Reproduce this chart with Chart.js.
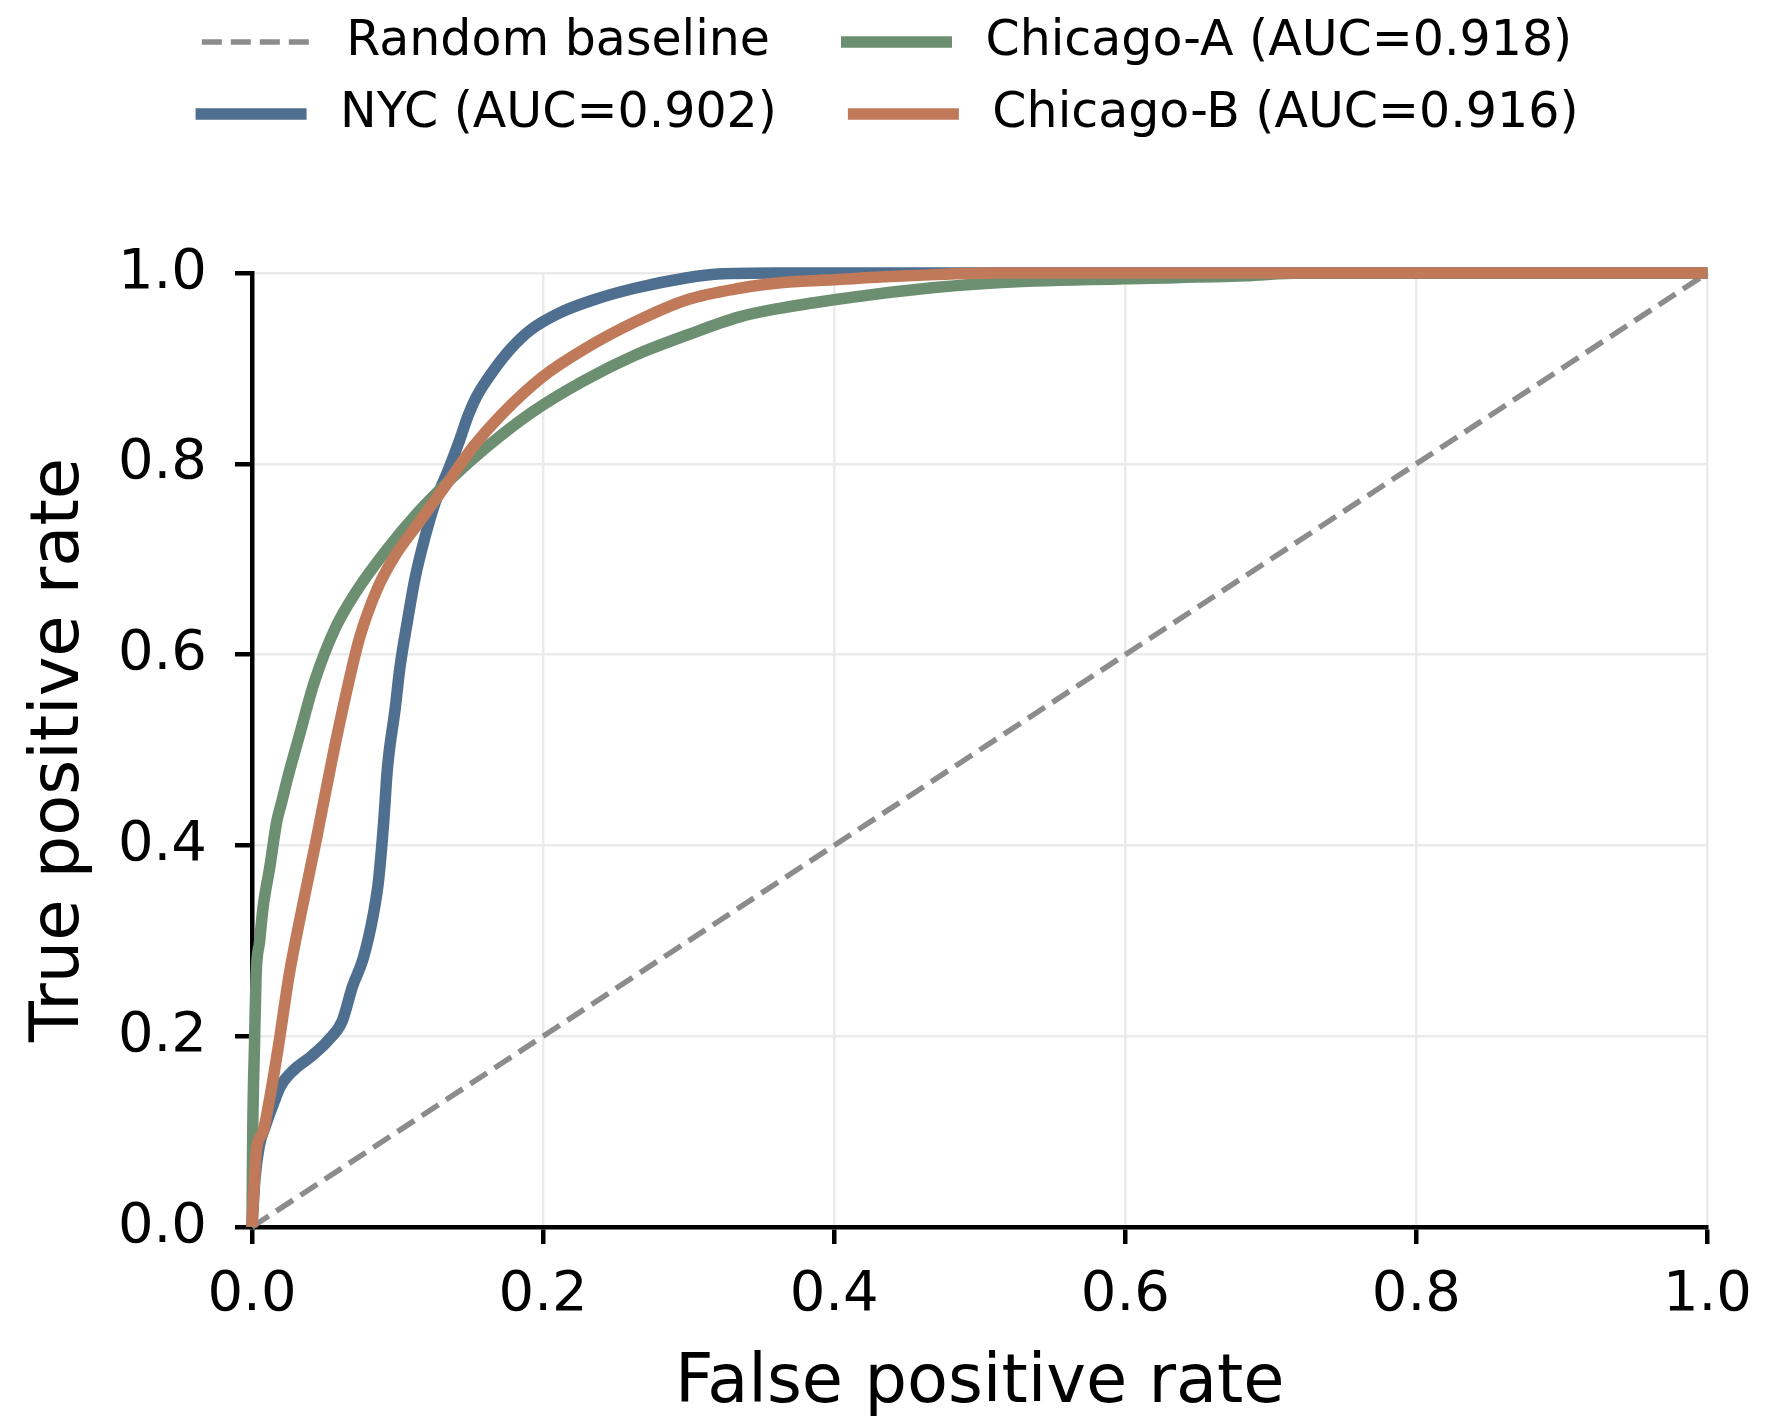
<!DOCTYPE html>
<html>
<head>
<meta charset="utf-8">
<script src="https://cdn.jsdelivr.net/npm/chart.js@4.4.1/dist/chart.umd.min.js"></script>
<style>
  html, body { margin: 0; padding: 0; background: #ffffff; }
  #wrap { width: 1770px; height: 1428px; position: relative; }
</style>
</head>
<body>
<div id="wrap"><canvas id="c"></canvas></div>
<script>
// ---------- data ----------
const tickValues = [0, 0.2, 0.4, 0.6, 0.8, 1.0];
const tickLabels = ['0.0', '0.2', '0.4', '0.6', '0.8', '1.0'];
const seriesNames = ['Random baseline', 'NYC (AUC=0.902)', 'Chicago-A (AUC=0.918)', 'Chicago-B (AUC=0.916)'];

const baselineFpr = [0, 1];
const baselineTpr = [0, 1];

const nycFpr = [0, 0.002, 0.005, 0.009, 0.0147, 0.0194, 0.029, 0.0408, 0.0526, 0.062, 0.069, 0.0763, 0.0834, 0.087, 0.0905, 0.093, 0.0985, 0.1015, 0.107, 0.112, 0.119, 0.126, 0.1355, 0.1427, 0.1486, 0.1545, 0.166, 0.178, 0.192, 0.211, 0.235, 0.263, 0.299, 0.32, 0.36, 1.0];
const nycTpr = [0, 0.05, 0.085, 0.105, 0.129, 0.147, 0.165, 0.179, 0.196, 0.216, 0.252, 0.281, 0.328, 0.364, 0.425, 0.48, 0.545, 0.585, 0.637, 0.680, 0.724, 0.760, 0.796, 0.825, 0.851, 0.871, 0.898, 0.921, 0.941, 0.958, 0.972, 0.984, 0.995, 0.999, 1.0, 1.0];

const chicagoAFpr = [0, 0.0005, 0.0017, 0.0028, 0.0052, 0.0076, 0.0123, 0.017, 0.0205, 0.0242, 0.0325, 0.043, 0.0573, 0.0716, 0.0905, 0.114, 0.138, 0.1616, 0.1924, 0.228, 0.2635, 0.299, 0.335, 0.3626, 0.4, 0.4516, 0.5093, 0.6, 0.6825, 0.72, 1.0];
const chicagoATpr = [0, 0.1, 0.19, 0.263, 0.299, 0.335, 0.378, 0.425, 0.446, 0.469, 0.515, 0.572, 0.628, 0.666, 0.706, 0.749, 0.786, 0.818, 0.854, 0.887, 0.914, 0.935, 0.954, 0.963, 0.972, 0.982, 0.9895, 0.994, 0.997, 1.0, 1.0];

const chicagoBFpr = [0, 0.0015, 0.003, 0.0076, 0.0123, 0.0182, 0.0254, 0.0336, 0.0443, 0.055, 0.0645, 0.074, 0.0858, 0.0976, 0.114, 0.133, 0.152, 0.171, 0.1995, 0.228, 0.2635, 0.299, 0.335, 0.365, 0.4, 0.45, 0.51, 1.0];
const chicagoBTpr = [0, 0.045, 0.08, 0.10, 0.136, 0.19, 0.263, 0.328, 0.407, 0.49, 0.558, 0.618, 0.668, 0.702, 0.737, 0.777, 0.818, 0.851, 0.891, 0.920, 0.949, 0.972, 0.984, 0.99, 0.993, 0.997, 1.0, 1.0];

// legend order (row-wise): Random baseline, Chicago-A, NYC, Chicago-B
const legendOrder = [0, 2, 1, 3];

// ---------- helpers ----------
function pts(xs, ys) { return xs.map((x, i) => ({ x: x, y: ys[i] })); }

const COLORS = ['#8c8c8c', '#4e6f8f', '#6d8f71', '#c07a59'];
const WIDTHS = [5.5, 11.5, 11.5, 11.5];
const DASHES = [[20, 9], [], [], []];

function makeSample(color, width, dash) {
  const c = document.createElement('canvas');
  c.width = 168; c.height = 16;
  const g = c.getContext('2d');
  g.strokeStyle = color; g.lineWidth = width; g.lineCap = 'butt';
  g.setLineDash(dash);
  g.beginPath(); g.moveTo(48, 8); g.lineTo(159, 8); g.stroke();
  return c;
}

Chart.defaults.font.family = "'DejaVu Sans', sans-serif";
Chart.defaults.color = '#000000';

const legendSpacer = {
  id: 'legendSpacer',
  beforeLayout(chart) {
    const lg = chart.legend;
    if (lg && !lg._spacerPatched) {
      const orig = lg.fit.bind(lg);
      lg.fit = function () { orig(); this.height = 278.5; };
      lg._spacerPatched = true;
    }
  }
};

const seriesData = [
  pts(baselineFpr, baselineTpr),
  pts(nycFpr, nycTpr),
  pts(chicagoAFpr, chicagoATpr),
  pts(chicagoBFpr, chicagoBTpr)
];
const drawOrder = [4, 3, 2, 1];

const datasets = seriesData.map((d, i) => ({
  label: seriesNames[i],
  data: d,
  showLine: true,
  borderColor: COLORS[i],
  backgroundColor: COLORS[i],
  borderWidth: WIDTHS[i],
  borderDash: DASHES[i],
  borderJoinStyle: 'round',
  pointRadius: 0,
  pointHoverRadius: 0,
  cubicInterpolationMode: i === 0 ? 'default' : 'monotone',
  tension: i === 0 ? 0 : 0.4,
  fill: false,
  clip: false,
  order: drawOrder[i]
}));

new Chart(document.getElementById('c'), {
  type: 'scatter',
  data: { datasets: datasets },
  plugins: [legendSpacer],
  options: {
    responsive: true,
    maintainAspectRatio: false,
    animation: false,
    devicePixelRatio: 1,
    layout: { padding: { top: -5.5, left: 16, right: 60, bottom: 0 } },
    plugins: {
      tooltip: { enabled: false },
      legend: {
        position: 'top',
        align: 'center',
        labels: {
          usePointStyle: true,
          pointStyleWidth: 168,
          padding: 23,
          color: '#000000',
          font: { size: 49, family: "'DejaVu Sans', sans-serif" },
          generateLabels: (chart) => legendOrder.map(i => ({
            text: chart.data.datasets[i].label,
            pointStyle: makeSample(COLORS[i], WIDTHS[i], DASHES[i]),
            fillStyle: 'rgba(0,0,0,0)',
            strokeStyle: 'rgba(0,0,0,0)',
            lineWidth: 0,
            hidden: false,
            datasetIndex: i
          }))
        }
      }
    },
    scales: {
      x: {
        type: 'linear',
        min: 0, max: 1,
        afterFit: (s) => { s.height = 201; },
        afterBuildTicks: (s) => { s.ticks = tickValues.map(v => ({ value: v })); },
        ticks: {
          padding: 18,
          color: '#000000',
          font: { size: 56 },
          maxRotation: 0,
          callback: (v, idx) => tickLabels[idx]
        },
        grid: {
          color: '#ebebeb',
          lineWidth: 2.5,
          drawTicks: true,
          tickLength: 17,
          tickWidth: 4.5,
          tickColor: '#000000'
        },
        border: { display: true, color: '#000000', width: 4.5 },
        title: {
          display: true,
          text: 'False positive rate',
          color: '#000000',
          font: { size: 67 },
          padding: { top: 0, bottom: 3 }
        }
      },
      y: {
        type: 'linear',
        min: 0, max: 1,
        afterFit: (s) => { s.width = 236; },
        afterBuildTicks: (s) => { s.ticks = tickValues.map(v => ({ value: v })); },
        ticks: {
          padding: 28,
          color: '#000000',
          font: { size: 56 },
          callback: (v, idx) => tickLabels[idx]
        },
        grid: {
          color: '#ebebeb',
          lineWidth: 2.5,
          drawTicks: true,
          tickLength: 17,
          tickWidth: 4.5,
          tickColor: '#000000'
        },
        border: { display: true, color: '#000000', width: 4.5 },
        title: {
          display: true,
          text: 'True positive rate',
          color: '#000000',
          font: { size: 67 },
          padding: { top: 4, bottom: 0 }
        }
      }
    }
  }
});
</script>
</body>
</html>
